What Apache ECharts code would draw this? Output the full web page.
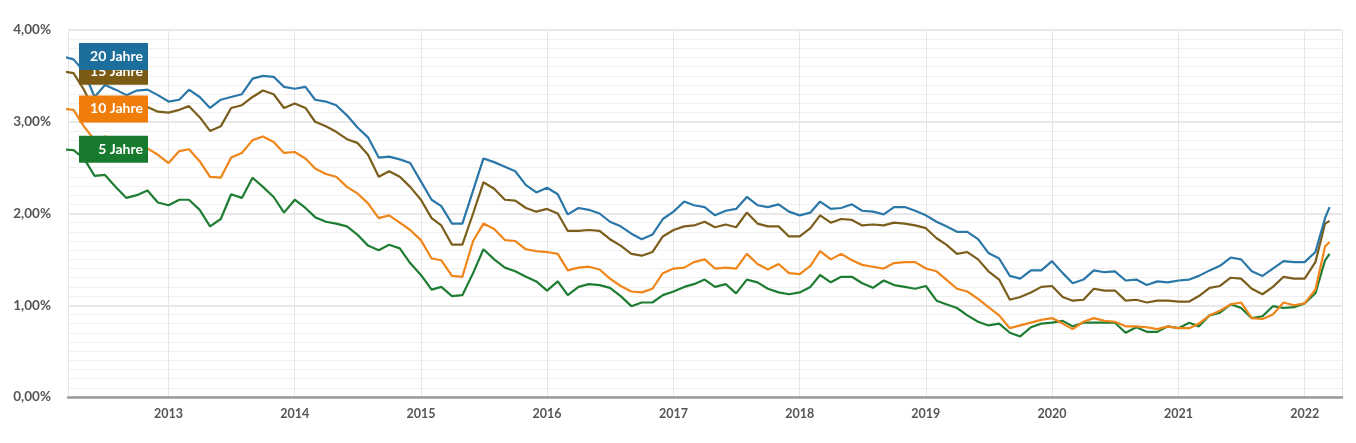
<!DOCTYPE html>
<html>
<head>
<meta charset="utf-8">
<script src="https://cdn.jsdelivr.net/npm/echarts@6/dist/echarts.min.js"></script>
<style>
html,body{margin:0;padding:0;background:#fff;}
#chart{width:1356px;height:443px;}
</style>
</head>
<body>
<div id="chart"></div>
<script>
// Monthly dates (first of month) from March 2012 to March 2022, plus latest value mid-March 2022
const dates = [];
for (let y = 2012; y <= 2022; y++) {
  for (let m = 1; m <= 12; m++) {
    if (y === 2012 && m < 3) continue;
    if (y === 2022 && m > 3) continue;
    dates.push(y + '-' + String(m).padStart(2, '0') + '-01');
  }
}
dates.push('2022-03-14');

const xMin = '2012-03-16';
const xMax = '2022-04-19';

const seriesNames = ['20 Jahre', '15 Jahre', '10 Jahre', '5 Jahre'];
const seriesColors = ['#2a77a8', '#7b5d1c', '#f0851a', '#1f7d33'];
const tagColors = ['#1c6e9d', '#7a5a14', '#f07d0a', '#177a2e'];

const y20 = [
  3.71, 3.68, 3.55, 3.27, 3.40, 3.35, 3.29, 3.34, 3.35, 3.29,
  3.22, 3.24, 3.35, 3.27, 3.15, 3.24, 3.27, 3.30, 3.47, 3.50, 3.49, 3.38,
  3.36, 3.38, 3.24, 3.22, 3.18, 3.07, 2.94, 2.83, 2.61, 2.62, 2.59, 2.55,
  2.35, 2.15, 2.08, 1.89, 1.89, 2.25, 2.60, 2.56, 2.51, 2.46, 2.31, 2.23,
  2.28, 2.21, 1.99, 2.06, 2.04, 2.00, 1.91, 1.86, 1.78, 1.72, 1.77, 1.94,
  2.02, 2.13, 2.09, 2.07, 1.98, 2.03, 2.05, 2.18, 2.09, 2.07, 2.10, 2.02,
  1.98, 2.01, 2.13, 2.05, 2.06, 2.10, 2.03, 2.02, 1.99, 2.07, 2.07, 2.03,
  1.98, 1.91, 1.86, 1.80, 1.80, 1.72, 1.57, 1.51, 1.32, 1.29, 1.38, 1.38,
  1.48, 1.35, 1.24, 1.28, 1.38, 1.36, 1.37, 1.27, 1.28, 1.22, 1.26, 1.25,
  1.27, 1.28, 1.32, 1.38, 1.43, 1.52, 1.50, 1.37, 1.32, 1.40, 1.48, 1.47,
  1.47, 1.58, 1.95, 2.07
];
const y15 = [
  3.55, 3.53, 3.35, 3.12, 3.22, 3.18, 3.12, 3.17, 3.16, 3.11,
  3.10, 3.13, 3.17, 3.05, 2.90, 2.95, 3.15, 3.18, 3.27, 3.34, 3.30, 3.15,
  3.20, 3.15, 3.00, 2.95, 2.89, 2.81, 2.77, 2.64, 2.40, 2.46, 2.40, 2.29,
  2.15, 1.95, 1.87, 1.66, 1.66, 2.00, 2.34, 2.27, 2.15, 2.14, 2.06, 2.02,
  2.05, 2.00, 1.81, 1.81, 1.82, 1.81, 1.72, 1.65, 1.56, 1.54, 1.58, 1.75,
  1.82, 1.86, 1.87, 1.91, 1.85, 1.88, 1.85, 2.01, 1.89, 1.86, 1.86, 1.75,
  1.75, 1.84, 1.98, 1.90, 1.94, 1.93, 1.87, 1.88, 1.87, 1.90, 1.89, 1.87,
  1.84, 1.73, 1.66, 1.56, 1.58, 1.50, 1.37, 1.28, 1.06, 1.09, 1.14, 1.20,
  1.21, 1.09, 1.05, 1.06, 1.18, 1.16, 1.16, 1.05, 1.06, 1.03, 1.05, 1.05,
  1.04, 1.04, 1.10, 1.19, 1.21, 1.30, 1.29, 1.18, 1.12, 1.20, 1.31, 1.29,
  1.29, 1.47, 1.89, 1.92
];
const y10 = [
  3.14, 3.13, 2.95, 2.80, 2.84, 2.80, 2.76, 2.74, 2.71, 2.64,
  2.55, 2.68, 2.70, 2.57, 2.40, 2.39, 2.61, 2.66, 2.80, 2.84, 2.78, 2.66,
  2.67, 2.60, 2.49, 2.43, 2.40, 2.29, 2.22, 2.11, 1.95, 1.98, 1.90, 1.82,
  1.71, 1.51, 1.49, 1.32, 1.31, 1.70, 1.89, 1.83, 1.71, 1.70, 1.61, 1.59,
  1.58, 1.56, 1.38, 1.41, 1.42, 1.39, 1.29, 1.21, 1.15, 1.14, 1.18, 1.35,
  1.40, 1.41, 1.47, 1.50, 1.40, 1.41, 1.40, 1.56, 1.45, 1.39, 1.45, 1.35,
  1.34, 1.43, 1.59, 1.50, 1.56, 1.49, 1.44, 1.42, 1.40, 1.46, 1.47, 1.47,
  1.40, 1.37, 1.28, 1.18, 1.15, 1.07, 0.98, 0.89, 0.75, 0.78, 0.81, 0.84,
  0.86, 0.80, 0.74, 0.82, 0.86, 0.83, 0.82, 0.77, 0.77, 0.76, 0.74, 0.77,
  0.75, 0.75, 0.80, 0.89, 0.94, 1.01, 1.03, 0.86, 0.85, 0.90, 1.03, 1.00,
  1.02, 1.17, 1.64, 1.69
];
const y5 = [
  2.70, 2.69, 2.60, 2.41, 2.42, 2.29, 2.17, 2.20, 2.25, 2.12,
  2.09, 2.15, 2.15, 2.04, 1.86, 1.94, 2.21, 2.17, 2.39, 2.29, 2.18, 2.01,
  2.15, 2.06, 1.96, 1.91, 1.89, 1.86, 1.77, 1.65, 1.60, 1.66, 1.62, 1.46,
  1.33, 1.17, 1.20, 1.10, 1.11, 1.35, 1.61, 1.50, 1.41, 1.37, 1.31, 1.26,
  1.16, 1.26, 1.11, 1.20, 1.23, 1.22, 1.19, 1.10, 0.99, 1.03, 1.03, 1.11,
  1.15, 1.20, 1.23, 1.28, 1.20, 1.23, 1.13, 1.28, 1.25, 1.18, 1.14, 1.12,
  1.14, 1.20, 1.33, 1.25, 1.31, 1.31, 1.24, 1.19, 1.27, 1.22, 1.20, 1.18,
  1.21, 1.05, 1.01, 0.97, 0.89, 0.82, 0.78, 0.80, 0.70, 0.66, 0.76, 0.80,
  0.81, 0.83, 0.77, 0.81, 0.81, 0.81, 0.81, 0.70, 0.76, 0.71, 0.71, 0.77,
  0.75, 0.81, 0.77, 0.89, 0.92, 1.01, 0.97, 0.86, 0.88, 0.99, 0.97, 0.98,
  1.02, 1.13, 1.49, 1.56
];
const seriesValues = [y20, y15, y10, y5];

const FONT = 'Lato, "Noto Sans", sans-serif';
const YEAR = 365.25 * 24 * 3600 * 1000;

const chart = echarts.init(document.getElementById('chart'), null, {renderer: 'canvas'});

const series = seriesNames.map((name, k) => ({
  name: name,
  type: 'line',
  data: dates.map((d, i) => [d, seriesValues[k][i]]),
  showSymbol: false,
  symbol: 'none',
  lineStyle: {color: seriesColors[k], width: 2.2},
  itemStyle: {color: seriesColors[k]},
  z: 2 + (3 - k),
  animation: false,
  markPoint: {
    z: 10 + (3 - k) + (k === 0 ? 5 : 0),
    animation: false,
    symbol: 'rect',
    symbolSize: [69, 27],
    symbolOffset: [45.5, 0],
    silent: true,
    itemStyle: {color: tagColors[k]},
    label: {
      show: true,
      position: 'insideRight',
      distance: 5,
      formatter: name,
      color: '#ffffff',
      fontSize: 14,
      fontWeight: 'bold',
      fontFamily: FONT
    },
    data: [{coord: [xMin, seriesValues[k][0]]}]
  }
}));

const option = {
  backgroundColor: '#ffffff',
  animation: false,
  grid: {left: 68, right: 14, top: 30, bottom: 46, outerBoundsMode: 'none', containLabel: false},
  xAxis: {
    type: 'time',
    min: xMin,
    max: xMax,
    splitNumber: 10,
    minInterval: YEAR,
    maxInterval: YEAR,
    axisLine: {show: true, onZero: false, lineStyle: {color: '#9a9a9a', width: 2.5}},
    axisTick: {show: false},
    axisLabel: {
      formatter: '{yyyy}',
      color: '#555555',
      fontSize: 12.5,
      fontWeight: 'bold',
      fontFamily: FONT,
      margin: 10,
      showMinLabel: false,
      showMaxLabel: false
    },
    splitLine: {show: true, lineStyle: {color: '#e6e6e6', width: 1}}
  },
  yAxis: {
    type: 'value',
    min: 0,
    max: 4,
    interval: 1,
    axisLine: {show: false},
    axisTick: {show: false},
    axisLabel: {
      formatter: v => v.toFixed(2).replace('.', ',') + '%',
      color: '#555555',
      fontSize: 13.5,
      fontWeight: 'bold',
      fontFamily: FONT,
      margin: 17
    },
    splitLine: {show: true, lineStyle: {color: '#e0e0e0', width: 1.5}},
    minorTick: {show: false, splitNumber: 10},
    minorSplitLine: {show: true, lineStyle: {color: '#f0f0f0', width: 1}}
  },
  series: series
};

chart.setOption(option);
</script>
</body>
</html>
